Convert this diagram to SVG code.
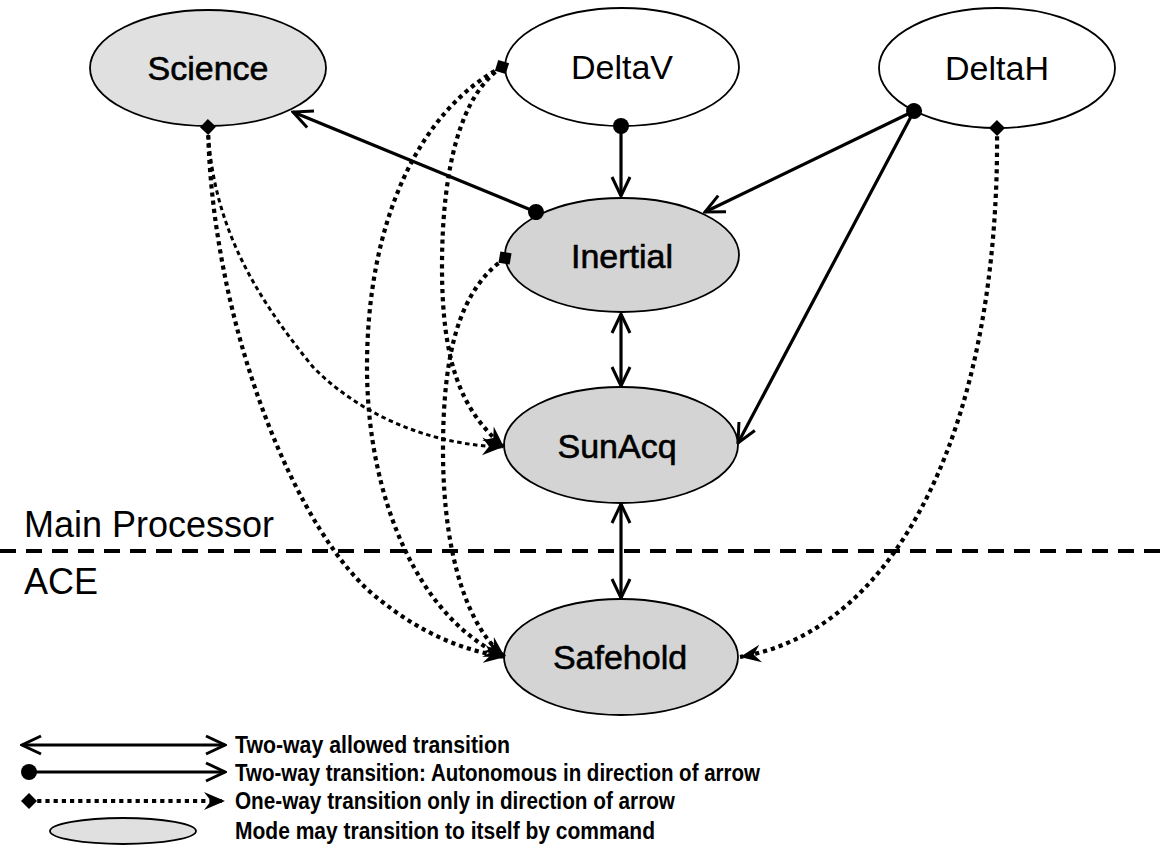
<svg xmlns="http://www.w3.org/2000/svg" width="1166" height="862" viewBox="0 0 1166 862">
<defs>
<style>
.node{stroke:#000;stroke-width:1.8}
.shaded{fill:#d4d4d4}
.light{fill:#e0e0e0}
.plain{fill:#fff}
.lbl{font-family:"Liberation Sans",Arial,sans-serif;font-size:34px;text-anchor:middle;fill:#000}
.lbl.heavy{stroke:#000;stroke-width:0.6}
.side{font-family:"Liberation Sans",Arial,sans-serif;font-size:36px;fill:#000}
.leg{font-family:"Liberation Sans",Arial,sans-serif;font-size:23px;font-weight:bold;fill:#000}
.solid{fill:none;stroke:#000;stroke-width:3.2}
.dot{fill:none;stroke:#000;stroke-width:4.2;stroke-dasharray:4.2 4}
.dotfine{fill:none;stroke:#000;stroke-width:3;stroke-dasharray:4.5 3.5}
</style>
<marker id="arr" markerUnits="userSpaceOnUse" viewBox="0 0 24 22" refX="22" refY="11" markerWidth="24" markerHeight="22" orient="auto-start-reverse">
<path d="M3,2 L22,11 L3,20" fill="none" stroke="#000" stroke-width="3"/>
</marker>
<marker id="sarr" markerUnits="userSpaceOnUse" viewBox="0 0 22 20" refX="21" refY="10" markerWidth="22" markerHeight="20" orient="auto">
<path d="M0,1 L21,10 L0,19 L7,10 z" fill="#000"/>
</marker>
<marker id="circ" markerUnits="userSpaceOnUse" viewBox="0 0 18 18" refX="9" refY="9" markerWidth="18" markerHeight="18" orient="auto">
<circle cx="9" cy="9" r="8" fill="#000"/>
</marker>
<marker id="dia" markerUnits="userSpaceOnUse" viewBox="0 0 18 18" refX="9" refY="9" markerWidth="18" markerHeight="18" orient="auto">
<path d="M9,1 L17,9 L9,17 L1,9 z" fill="#000"/>
</marker>
</defs>
<rect width="1166" height="862" fill="#fff"/>

<line x1="0" y1="551" x2="1166" y2="551" stroke="#000" stroke-width="4" stroke-dasharray="16 10"/>
<text class="side" x="24" y="537">Main Processor</text>
<text class="side" x="24" y="594">ACE</text>

<g id="node-science"><ellipse class="node light" cx="208" cy="68" rx="118" ry="58"/><text class="lbl heavy" x="208" y="80">Science</text></g>
<g id="node-deltav"><ellipse class="node plain" cx="622" cy="67" rx="117" ry="59"/><text class="lbl" x="622" y="79">DeltaV</text></g>
<g id="node-deltah"><ellipse class="node plain" cx="997" cy="68" rx="118" ry="60"/><text class="lbl" x="997" y="80">DeltaH</text></g>
<g id="node-inertial"><ellipse class="node shaded" cx="622" cy="255" rx="117" ry="57"/><text class="lbl heavy" x="622" y="268">Inertial</text></g>
<g id="node-sunacq"><ellipse class="node shaded" cx="621" cy="445" rx="117" ry="58"/><text class="lbl heavy" x="617" y="458">SunAcq</text></g>
<g id="node-safehold"><ellipse class="node shaded" cx="621" cy="657" rx="117" ry="58"/><text class="lbl heavy" x="620" y="669">Safehold</text></g>

<g id="connectors">
<line class="solid" x1="536" y1="212" x2="293" y2="112" marker-start="url(#circ)" marker-end="url(#arr)"/>
<line class="solid" x1="621" y1="126" x2="621" y2="196" marker-start="url(#circ)" marker-end="url(#arr)"/>
<line class="solid" x1="914" y1="111" x2="705" y2="212" marker-start="url(#circ)" marker-end="url(#arr)"/>
<line class="solid" x1="914" y1="111" x2="738" y2="443" marker-end="url(#arr)"/>
<line class="solid" x1="621" y1="314" x2="621" y2="386" marker-start="url(#arr)" marker-end="url(#arr)"/>
<line class="solid" x1="621" y1="504" x2="621" y2="598" marker-start="url(#arr)" marker-end="url(#arr)"/>

<path class="dotfine" d="M208,127 C212,220 250,290 313,367 C360,415 430,445 503,447" marker-end="url(#sarr)"/>
<path class="dot" d="M208,127 C212,330 300,540 380,600 C420,632 460,650 505,657" marker-start="url(#dia)" marker-end="url(#sarr)"/>
<path class="dot" d="M502,67 C420,110 367,220 367,367 C367,500 420,620 505,657" marker-start="url(#dia)" marker-end="url(#sarr)"/>
<path class="dot" d="M502,67 C460,95 442,170 442,267 C442,360 460,410 504,447" marker-end="url(#sarr)"/>
<path class="dot" d="M505,258 C460,290 443,350 443,450 C443,560 470,630 505,657" marker-start="url(#dia)" marker-end="url(#sarr)"/>
<path class="dot" d="M997,128 C1000,420 900,630 740,657" marker-start="url(#dia)" marker-end="url(#sarr)"/>
</g>

<g id="legend">
<line class="solid" x1="22" y1="745" x2="225" y2="745" stroke-width="2.6" marker-start="url(#arr)" marker-end="url(#arr)"/>
<line class="solid" x1="29" y1="772" x2="225" y2="772" stroke-width="2.6" marker-start="url(#circ)" marker-end="url(#arr)"/>
<line class="dot" x1="29" y1="801" x2="225" y2="801" stroke-width="3" marker-start="url(#dia)" marker-end="url(#sarr)"/>
<ellipse class="node light" cx="123" cy="831" rx="73" ry="13"/>
<text class="leg" x="235" y="753" textLength="275" lengthAdjust="spacingAndGlyphs">Two-way allowed transition</text>
<text class="leg" x="235" y="781" textLength="525" lengthAdjust="spacingAndGlyphs">Two-way transition: Autonomous in direction of arrow</text>
<text class="leg" x="235" y="809" textLength="440" lengthAdjust="spacingAndGlyphs">One-way transition only in direction of arrow</text>
<text class="leg" x="235" y="839" textLength="420" lengthAdjust="spacingAndGlyphs">Mode may transition to itself by command</text>
</g>
</svg>
